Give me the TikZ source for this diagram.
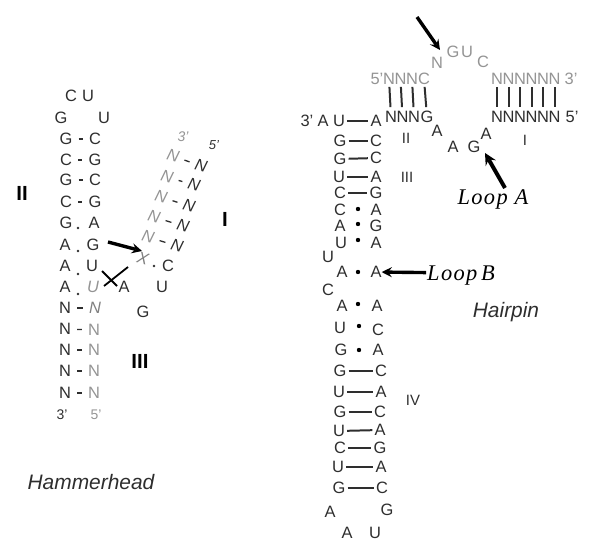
\documentclass[tikz,border=0pt]{standalone}
\usepackage{fontspec}
\setmainfont{Liberation Sans}
\newfontfamily\loopfont[LetterSpace=6]{Liberation Serif}
\usetikzlibrary{arrows}
\definecolor{softblack}{gray}{0.18}
\definecolor{softgray}{gray}{0.58}
\tikzstyle{base} = [inner sep=0pt, text height=11.5pt, text depth=0pt, text=softblack,
font=\fontsize{16.5}{18}\selectfont]
\tikzstyle{pale} = [base, text=softgray]
\tikzstyle{slant} = [base, font=\fontsize{16.5}{18}\selectfont\itshape, rotate=-15]
\tikzstyle{paleslant} = [slant, text=softgray]
\tikzstyle{endtag} = [base, text height=10pt, font=\fontsize{14}{16}\selectfont]
\tikzstyle{stem} = [base, text height=14.5pt, text=black, font=\fontsize{20.5}{22}\selectfont\bfseries]
\tikzstyle{region} = [base, font=\fontsize{15}{18}\selectfont]
\tikzstyle{title} = [base, text height=15pt, font=\fontsize{21}{24}\selectfont\itshape]
\tikzstyle{loopname} = [base, text height=15pt, text=black, font=\loopfont\fontsize{22.5}{24}\selectfont\itshape]
\tikzstyle{spot} = [circle, fill=softblack, inner sep=0pt, minimum size=3pt]
\tikzstyle{bigspot} = [circle, fill=black, inner sep=0pt, minimum size=4.4pt]
\tikzstyle{pairdash} = [line width=1.3pt, softblack, shorten >=6pt, shorten <=6pt]
\tikzstyle{bond} = [line width=2pt, softblack, shorten >=2pt, shorten <=2pt]
\tikzstyle{rung} = [line width=2pt, softblack, shorten >=4pt, shorten <=2pt]
\tikzstyle{arrow} = [line width=3.4pt, black, ->, >=stealth]

\begin{document}
\begin{tikzpicture}[x=1bp, y=-1bp]
    \useasboundingbox (0,0) rectangle (601,550);
    % hammerhead, stem II
    \node (hhC) [base] at (71,96) {C};
    \node (hhU) [base] at (88,96) {U};
    \node (hhG) [base] at (61,118) {G};
    \node (hhV) [base] at (104,118) {U};
    \node (hhLa) [base] at (66,139) {G};
    \node (hhRa) [base] at (95,139) {C};
    \node (hhLb) [base] at (66,160) {C};
    \node (hhRb) [base] at (95,160) {G};
    \node (hhLc) [base] at (66,180) {G};
    \node (hhRc) [base] at (95,180) {C};
    \node (hhLd) [base] at (66,202) {C};
    \node (hhRd) [base] at (95,202) {G};
    \node (hhLe) [base] at (66,223) {G};
    \node (hhRe) [base] at (94,223) {A};
    \node (hhLf) [base] at (65,245) {A};
    \node (hhRf) [base] at (93,245) {G};
    \node (hhLg) [base] at (65,266) {A};
    \node (hhRg) [base] at (92,266) {U};
    \node (hhLh) [base] at (65,287) {A};
    \node (hhRh) [paleslant, rotate=15] at (93,287) {U};
    \node (hhDe) [spot] at (78,228) {};
    \node (hhDf) [spot] at (78,251) {};
    \node (hhDg) [spot] at (78,274) {};
    \node (hhDh) [spot] at (78,294) {};
    \draw [pairdash] (hhLa) -- (hhRa);
    \draw [pairdash] (hhLb) -- (hhRb);
    \draw [pairdash] (hhLc) -- (hhRc);
    \draw [pairdash] (hhLd) -- (hhRd);
    % hammerhead, stem III
    \node (hhLi) [base] at (65,308) {N};
    \node (hhRi) [paleslant, rotate=15, text=gray] at (95,308) {N};
    \node (hhLj) [base] at (65,329) {N};
    \node (hhRj) [pale] at (94,330) {N};
    \node (hhLk) [base] at (65,350) {N};
    \node (hhRk) [pale] at (94,350) {N};
    \node (hhLl) [base] at (65,371) {N};
    \node (hhRl) [pale] at (94,371) {N};
    \node (hhLm) [base] at (65,393) {N};
    \node (hhRm) [pale] at (94,393) {N};
    \draw [pairdash] (hhLi) -- (hhRi);
    \draw [pairdash] (hhLj) -- (hhRj);
    \draw [pairdash] (hhLk) -- (hhRk);
    \draw [pairdash] (hhLl) -- (hhRl);
    \draw [pairdash] (hhLm) -- (hhRm);
    \node (hhThree) [endtag] at (62,415) {3'};
    \node (hhFive) [endtag, text=softgray] at (96,415) {5'};
    % hammerhead, stem I
    \node (hhEnd) [endtag, text=softgray, font=\fontsize{14}{16}\selectfont\itshape] at (183,137) {3'};
    \node (hhTop) [endtag, font=\fontsize{13}{16}\selectfont\itshape] at (214,145) {5'};
    \node (hhPa) [paleslant] at (173,156) {N};
    \node (hhQa) [slant] at (201,166) {N};
    \node (hhPb) [paleslant] at (167,177) {N};
    \node (hhQb) [slant] at (194,185) {N};
    \node (hhPc) [paleslant] at (161,197) {N};
    \node (hhQc) [slant] at (189,206) {N};
    \node (hhPd) [paleslant] at (154,217) {N};
    \node (hhQd) [slant] at (183,226) {N};
    \node (hhPe) [paleslant] at (148,237) {N};
    \node (hhQe) [slant] at (177,246) {N};
    \draw [pairdash] (hhPa) -- (hhQa);
    \draw [pairdash] (hhPb) -- (hhQb);
    \draw [pairdash] (hhPc) -- (hhQc);
    \draw [pairdash] (hhPd) -- (hhQd);
    \draw [pairdash] (hhPe) -- (hhQe);
    \node (hhX) [paleslant, text=gray] at (143,258) {X};
    \node (hhDx) [spot] at (154,266) {};
    \node (hhCc) [base] at (168,266) {C};
    \node (hhAa) [base] at (124,287) {A};
    \node (hhUu) [base] at (162,287) {U};
    \node (hhGg) [base] at (143,312) {G};
    \node (hhOne) [stem] at (225,219) {I};
    \node (hhTwo) [stem] at (22,193) {II};
    \node (hhTri) [stem] at (140,361) {III};
    \node (hhName) [title] at (91,482) {Hammerhead};
    \coordinate (hhTail) at (108,242);
    \coordinate (hhTip) at (142,251);
    \draw [arrow] (hhTail) -- (hhTip);
    \coordinate (hhCa) at (102,271);
    \coordinate (hhCb) at (117,286);
    \coordinate (hhCd) at (128,267);
    \coordinate (hhCe) at (104,286);
    \draw [line width=1.8pt, black] (hhCa) -- (hhCb);
    \draw [line width=1.8pt, black] (hhCd) -- (hhCe);
    % hairpin, domain with loop A
    \node (hpFive) [pale] at (377,79) {5'};
    \node (hpTa) [pale] at (389,79) {N};
    \node (hpTb) [pale] at (400.5,79) {N};
    \node (hpTc) [pale] at (412,79) {N};
    \node (hpTd) [pale] at (424,79) {C};
    \node (hpBa) [base] at (391,117) {N};
    \node (hpBb) [base] at (402.5,117) {N};
    \node (hpBc) [base] at (414,117) {N};
    \node (hpBd) [base] at (427,117) {G};
    \draw [rung] (hpTa) -- (hpBa);
    \draw [rung] (hpTb) -- (hpBb);
    \draw [rung] (hpTc) -- (hpBc);
    \draw [rung] (hpTd) -- (hpBd);
    \node (hpTe) [pale] at (497,79) {N};
    \node (hpTf) [pale] at (508.5,79) {N};
    \node (hpTg) [pale] at (520,79) {N};
    \node (hpTh) [pale] at (531.5,79) {N};
    \node (hpTi) [pale] at (543,79) {N};
    \node (hpTj) [pale] at (554.5,79) {N};
    \node (hpThree) [pale] at (571,79) {3'};
    \node (hpBe) [base] at (497,117) {N};
    \node (hpBf) [base] at (508.5,117) {N};
    \node (hpBg) [base] at (520,117) {N};
    \node (hpBh) [base] at (531.5,117) {N};
    \node (hpBi) [base] at (543,117) {N};
    \node (hpBj) [base] at (554.5,117) {N};
    \node (hpEnd) [base] at (572,117) {5'};
    \draw [rung] (hpTe) -- (hpBe);
    \draw [rung] (hpTf) -- (hpBf);
    \draw [rung] (hpTg) -- (hpBg);
    \draw [rung] (hpTh) -- (hpBh);
    \draw [rung] (hpTi) -- (hpBi);
    \draw [rung] (hpTj) -- (hpBj);
    \node (hpN) [pale] at (437,63) {N};
    \node (hpG) [pale] at (453,52) {G};
    \node (hpU) [pale] at (467,52) {U};
    \node (hpC) [pale] at (483,62) {C};
    \node (hpAa) [base] at (437,131) {A};
    \node (hpAb) [base] at (453,147) {A};
    \node (hpGg) [base] at (474,147) {G};
    \node (hpAc) [base] at (486,134) {A};
    \node (hpTwo) [region] at (406,138) {II};
    \node (hpOne) [region] at (525,140) {I};
    \node (hpTri) [region] at (407,177) {III};
    \node (hpFour) [region] at (413,400) {IV};
    \node (hpLoopA) [loopname] at (493,197) {Loop A};
    \coordinate (hpTailN) at (417,17);
    \coordinate (hpTipN) at (440,50);
    \draw [arrow] (hpTailN) -- (hpTipN);
    \coordinate (hpTailA) at (505,188);
    \coordinate (hpTipA) at (485,153);
    \draw [arrow, line width=4pt] (hpTailA) -- (hpTipA);
    % hairpin, stems III and IV
    \node (hpEndT) [base] at (307,121) {3'};
    \node (hpEndA) [base] at (323,121) {A};
    \node (hpLa) [base] at (339,121) {U};
    \node (hpRa) [base] at (376,121) {A};
    \node (hpLb) [base] at (340,141) {G};
    \node (hpRb) [base] at (376,141) {C};
    \node (hpLc) [base] at (340,159) {G};
    \node (hpRc) [base] at (376,158) {C};
    \node (hpLd) [base] at (339,177) {U};
    \node (hpRd) [base] at (376,177) {A};
    \node (hpLe) [base] at (340,193) {C};
    \node (hpRe) [base] at (376,193) {G};
    \draw [bond] (hpLa) -- (hpRa);
    \draw [bond] (hpLb) -- (hpRb);
    \draw [bond] (hpLc) -- (hpRc);
    \draw [bond] (hpLd) -- (hpRd);
    \draw [bond] (hpLe) -- (hpRe);
    \node (hpLf) [base] at (340,210) {C};
    \node (hpDf) [bigspot] at (358,209) {};
    \node (hpRf) [base] at (376,210) {A};
    \node (hpLg) [base] at (340,226) {A};
    \node (hpDg) [bigspot] at (358,224) {};
    \node (hpRg) [base] at (376,226) {G};
    \node (hpLh) [base] at (341,243) {U};
    \node (hpDh) [bigspot] at (358,240) {};
    \node (hpRh) [base] at (376,243) {A};
    \node (hpUb) [base] at (328,257) {U};
    \node (hpLi) [base] at (342,272) {A};
    \node (hpDi) [bigspot] at (358,272) {};
    \node (hpRi) [base] at (376,272) {A};
    \node (hpCb) [base] at (328,290) {C};
    \node (hpLj) [base] at (342,306) {A};
    \node (hpDj) [bigspot] at (358,304) {};
    \node (hpRj) [base] at (377,306) {A};
    \node (hpLk) [base] at (340,328) {U};
    \node (hpDk) [bigspot] at (359,326) {};
    \node (hpRk) [base] at (378,330) {C};
    \node (hpLl) [base] at (341,350) {G};
    \node (hpDl) [bigspot] at (359,350) {};
    \node (hpRl) [base] at (378,350) {A};
    \node (hpLoopB) [loopname] at (461,273) {Loop\,B};
    \draw [arrow, shorten <=1pt] (hpLoopB) -- (hpRi);
    \node (hpName) [title] at (506,310) {Hairpin};
    \node (hpLm) [base] at (340,371) {G};
    \node (hpRm) [base] at (381,371) {C};
    \node (hpLn) [base] at (339,392) {U};
    \node (hpRn) [base] at (381,392) {A};
    \node (hpLo) [base] at (340,412) {G};
    \node (hpRo) [base] at (380,412) {C};
    \node (hpLp) [base] at (339,431) {U};
    \node (hpRp) [base] at (380,430) {A};
    \node (hpLq) [base] at (340,448) {C};
    \node (hpRq) [base] at (380,448) {G};
    \node (hpLr) [base] at (338,467) {U};
    \node (hpRr) [base] at (381,467) {A};
    \node (hpLs) [base] at (339,488) {G};
    \node (hpRs) [base] at (382,488) {C};
    \draw [bond] (hpLm) -- (hpRm);
    \draw [bond] (hpLn) -- (hpRn);
    \draw [bond] (hpLo) -- (hpRo);
    \draw [bond] (hpLp) -- (hpRp);
    \draw [bond] (hpLq) -- (hpRq);
    \draw [bond] (hpLr) -- (hpRr);
    \draw [bond] (hpLs) -- (hpRs);
    \node (hpAd) [base] at (330,512) {A};
    \node (hpGe) [base] at (387,510) {G};
    \node (hpAe) [base] at (347,533) {A};
    \node (hpUe) [base] at (375,533) {U};
\end{tikzpicture}
\end{document}
